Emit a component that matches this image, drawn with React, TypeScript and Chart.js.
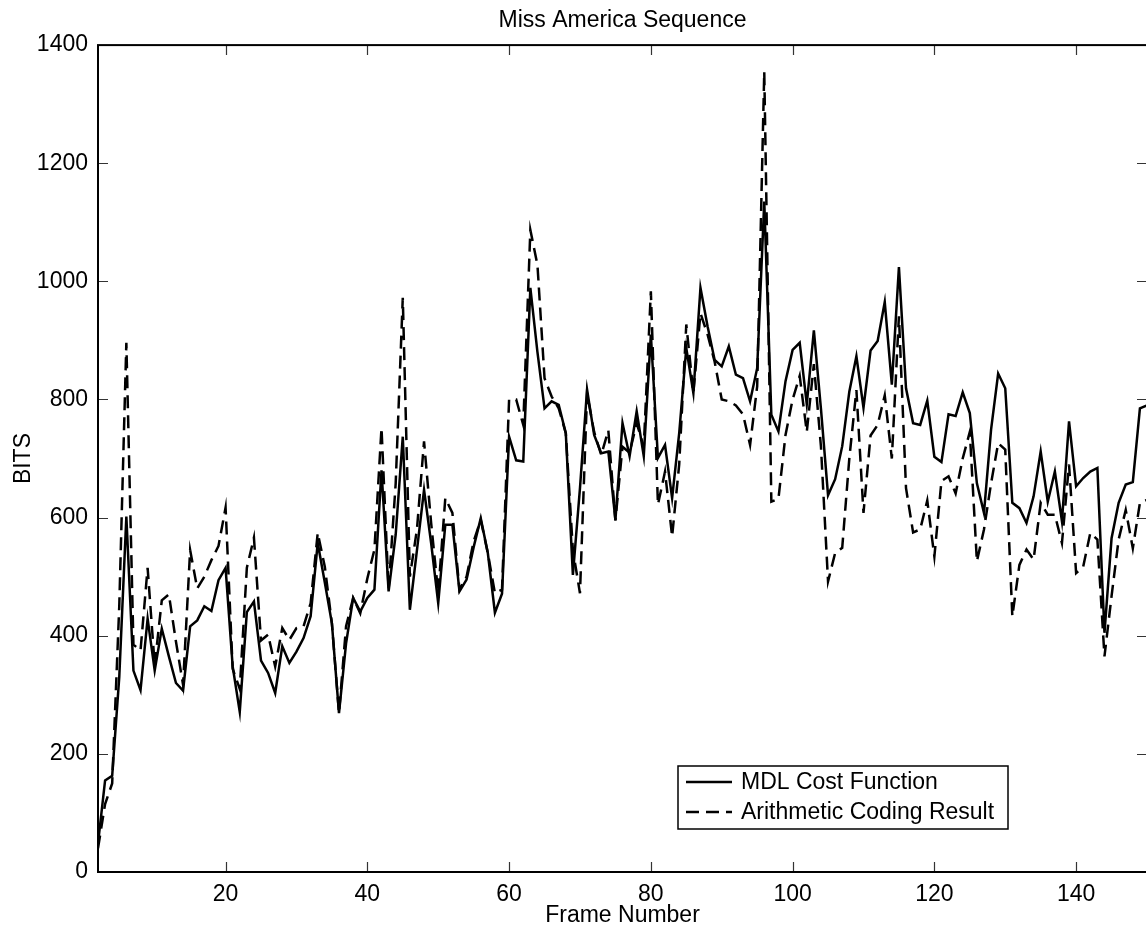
import React, { useEffect, useRef } from "react";
import { Chart, registerables } from "chart.js";

Chart.register(...registerables);

// Frame numbers run from FIRST_FRAME to LAST_FRAME (one value per frame)
const FIRST_FRAME = 2;
const LAST_FRAME = 150;

const chartTitle = "Miss America Sequence";
const xTitle = "Frame Number";
const yTitle = "BITS";
const seriesLabels = ["MDL Cost Function", "Arithmetic Coding Result"];

const xTickValues = [20, 40, 60, 80, 100, 120, 140];
const yTickValues = [0, 200, 400, 600, 800, 1000, 1200, 1400];

// MDL cost function, frames 2..150
const mdlCost = [
  48, 155, 163, 330, 602, 341, 308, 429, 341, 412,
  365, 320, 307, 416, 426, 450, 442, 494, 515, 348,
  271, 440, 458, 358, 337, 303, 382, 354, 373, 396,
  433, 557, 490, 421, 269, 387, 464, 441, 464, 478,
  680, 475, 571, 737, 444, 545, 647, 557, 455, 588,
  588, 475, 495, 550, 599, 540, 439, 471, 737, 697,
  695, 989, 880, 785, 797, 791, 743, 503, 650, 817,
  740, 709, 712, 596, 760, 704, 780, 704, 910, 701,
  723, 633, 743, 887, 811, 989, 924, 867, 856, 890,
  842, 836, 797, 853, 1135, 774, 746, 831, 884, 896,
  792, 917, 784, 638, 665, 721, 813, 873, 786, 883,
  899, 965, 825, 1024, 819, 760, 757, 798, 703, 694,
  775, 772, 812, 777, 658, 608, 749, 844, 819, 625,
  616, 591, 636, 712, 627, 678, 594, 763, 653, 667,
  678, 684, 405, 565, 625, 656, 660, 785, 790,
];

// Arithmetic coding result, frames 2..150
const arithCoding = [
  40, 115, 150, 450, 896, 385, 375, 515, 350, 460,
  470, 390, 317, 545, 480, 500, 528, 552, 617, 344,
  310, 515, 566, 392, 402, 348, 413, 393, 413, 416,
  455, 574, 517, 421, 269, 416, 464, 438, 497, 546,
  752, 478, 658, 972, 500, 580, 729, 591, 472, 633,
  608, 478, 500, 560, 596, 540, 472, 478, 800, 800,
  757, 1087, 1028, 836, 805, 785, 743, 545, 472, 810,
  745, 706, 748, 595, 720, 710, 760, 720, 983, 622,
  678, 568, 690, 927, 811, 946, 910, 864, 800, 797,
  790, 775, 723, 822, 1355, 627, 632, 740, 800, 840,
  745, 860, 720, 492, 540, 549, 700, 816, 608, 739,
  757, 807, 700, 941, 650, 575, 580, 629, 534, 662,
  670, 641, 700, 745, 526, 580, 658, 726, 715, 433,
  520, 546, 529, 625, 605, 605, 557, 690, 506, 517,
  574, 563, 365, 467, 563, 613, 548, 625, 630,
];

const FONT = "'Liberation Sans', Arial, Helvetica, sans-serif";
const FS = 23;

const toPoints = (vals: number[]) => vals.map((v, i) => ({ x: FIRST_FRAME + i, y: v }));

const matlabPlugin = {
  id: "matlabFrame",
  afterDraw(chart: any) {
    const { ctx, chartArea: a, scales } = chart;
    ctx.save();
    // inward ticks
    ctx.strokeStyle = "#333";
    ctx.lineWidth = 1.2;
    const tl = 10;
    ctx.beginPath();
    for (const t of xTickValues) {
      const px = Math.round(scales.x.getPixelForValue(t)) + 0.5;
      ctx.moveTo(px, a.bottom);
      ctx.lineTo(px, a.bottom - tl);
      ctx.moveTo(px, a.top);
      ctx.lineTo(px, a.top + tl);
    }
    for (const t of yTickValues) {
      const py = Math.round(scales.y.getPixelForValue(t)) + 0.5;
      ctx.moveTo(a.left, py);
      ctx.lineTo(a.left + tl, py);
      ctx.moveTo(a.right, py);
      ctx.lineTo(a.right - tl, py);
    }
    ctx.stroke();
    // frame
    ctx.strokeStyle = "#000";
    ctx.lineWidth = 2;
    ctx.strokeRect(a.left, a.top, a.right - a.left, a.bottom - a.top);

    // legend (inside the axes, lower right)
    const bx = 678, by = 766, bw = 330, bh = 63;
    ctx.fillStyle = "#fff";
    ctx.fillRect(bx, by, bw, bh);
    ctx.strokeStyle = "#000";
    ctx.lineWidth = 1.5;
    ctx.strokeRect(bx, by, bw, bh);
    ctx.font = `23px ${FONT}`;
    ctx.textBaseline = "middle";
    ctx.textAlign = "left";
    const rows = [by + 16, by + 46];
    chart.data.datasets.forEach((ds: any, i: number) => {
      const y = rows[i];
      ctx.beginPath();
      ctx.lineWidth = 2.5;
      ctx.strokeStyle = "#000";
      ctx.setLineDash(ds.borderDash || []);
      ctx.moveTo(bx + 8, y);
      ctx.lineTo(bx + 54, y);
      ctx.stroke();
      ctx.setLineDash([]);
      ctx.fillStyle = "#000";
      ctx.fillText(ds.label, bx + 63, y + 1);
    });
    ctx.restore();
  },
};

export default function App() {
  const ref = useRef<HTMLCanvasElement | null>(null);

  useEffect(() => {
    if (!ref.current) return;
    const chart = new Chart(ref.current, {
      type: "line",
      data: {
        datasets: [
          {
            label: seriesLabels[0],
            data: toPoints(mdlCost),
            borderColor: "#000",
            borderWidth: 2.5,
            pointRadius: 0,
            tension: 0,
            fill: false,
          },
          {
            label: seriesLabels[1],
            data: toPoints(arithCoding),
            borderColor: "#000",
            borderWidth: 2.5,
            borderDash: [13, 7],
            pointRadius: 0,
            tension: 0,
            fill: false,
          },
        ],
      },
      options: {
        animation: false,
        responsive: false,
        devicePixelRatio: 1,
        layout: { padding: { left: 0, right: 13, top: 0, bottom: 0 } },
        plugins: {
          legend: { display: false },
          tooltip: { enabled: false },
          title: {
            display: true,
            text: chartTitle,
            color: "#000",
            fullSize: false,
            font: { family: FONT, size: FS, weight: "normal" },
            padding: { top: 7, bottom: 10.5 },
          },
        },
        scales: {
          x: {
            type: "linear",
            position: "bottom",
            min: FIRST_FRAME,
            max: LAST_FRAME,
            afterBuildTicks: (s: any) => {
              s.ticks = xTickValues.map((v) => ({ value: v }));
            },
            afterFit: (s: any) => {
              s.height = 62;
            },
            grid: { display: false, drawTicks: false },
            border: { display: false },
            ticks: {
              color: "#000",
              font: { family: FONT, size: FS },
              padding: 9,
              maxRotation: 0,
              autoSkip: false,
              callback: (v: any) => String(v),
            },
            title: {
              display: true,
              text: xTitle,
              color: "#000",
              font: { family: FONT, size: FS },
              padding: { top: 0, bottom: 4.5 },
            },
          },
          y: {
            type: "linear",
            min: 0,
            max: 1400,
            afterBuildTicks: (s: any) => {
              s.ticks = yTickValues.map((v) => ({ value: v }));
            },
            afterFit: (s: any) => {
              s.width = 98;
            },
            grid: { display: false, drawTicks: false },
            border: { display: false },
            ticks: {
              color: "#000",
              font: { family: FONT, size: FS },
              padding: 10,
              autoSkip: false,
              callback: (v: any) => String(v),
            },
            title: {
              display: true,
              text: yTitle,
              color: "#000",
              font: { family: FONT, size: FS },
              padding: { top: 10, bottom: 0 },
            },
          },
        },
      },
      plugins: [matlabPlugin],
    });
    return () => chart.destroy();
  }, []);

  return (
    <div
      style={{
        position: "fixed",
        left: 0,
        top: 0,
        width: 1146,
        height: 934,
        overflow: "hidden",
        background: "#fff",
      }}
    >
      <canvas ref={ref} width={1160} height={934} style={{ display: "block" }} />
    </div>
  );
}
